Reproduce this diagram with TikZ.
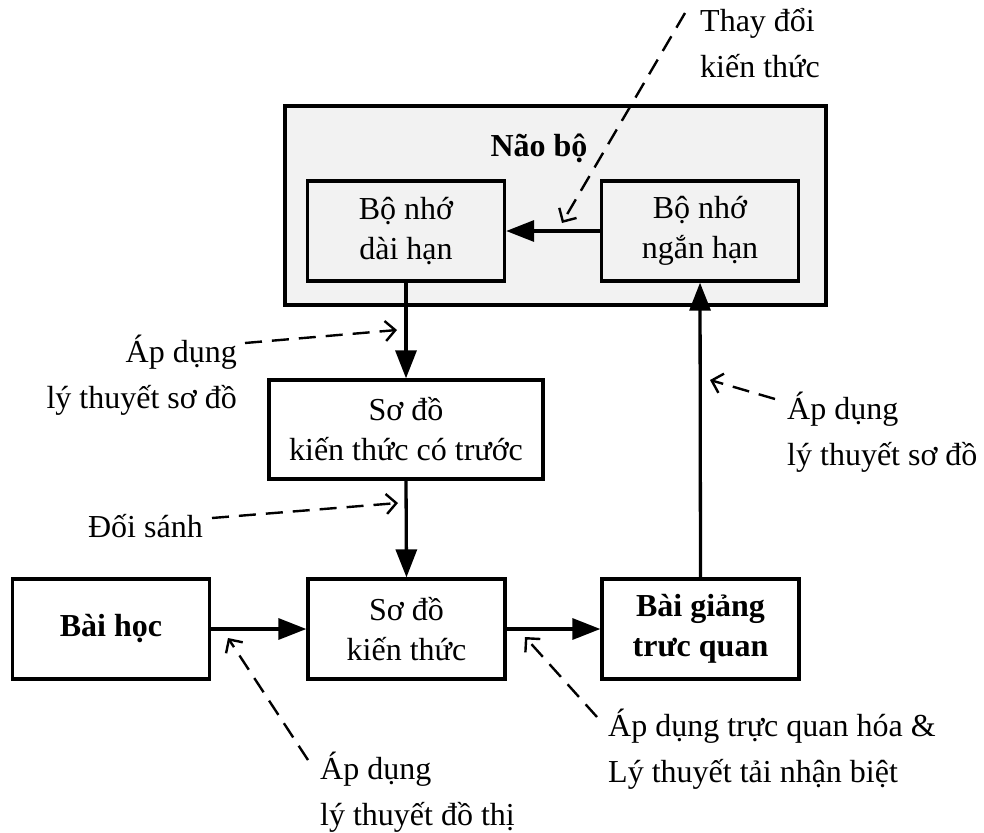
\documentclass[tikz,border=0pt]{standalone}
\usepackage{fontspec}
\setmainfont{Liberation Serif}
\usetikzlibrary{arrows.meta}
\definecolor{panel}{HTML}{F2F2F2}
\begin{document}
\begin{tikzpicture}[x=1pt,y=-1pt,
  box/.style={draw, line width=3.3pt, align=center, inner sep=0pt,
    minimum width=197pt, minimum height=100pt,
    font=\fontsize{32}{40}\selectfont},
  inner/.style={box, fill=panel},
  note/.style={inner sep=0pt, font=\fontsize{32}{46}\selectfont},
  flow/.style={line width=3.3pt, -{Triangle[length=28pt,width=21pt]}},
  hint/.style={line width=2.4pt, dash pattern=on 17pt off 10pt,
    -{Straight Barb[length=10pt,width=20pt]}}
]
\useasboundingbox (0,0) rectangle (984,832);

% brain block with its two memories
\node[draw, line width=4.3pt, fill=panel, minimum width=541pt, minimum height=199pt,
      inner sep=0pt] (brain) at (555.5,205.5) {};
\node[font=\fontsize{32}{40}\selectfont\bfseries, inner sep=0pt, anchor=base]
      (braintitle) at (539,156) {Não bộ};
\node[inner] (ltm) at (406,231) {Bộ nhớ\\dài hạn};
\node[inner] (stm) at (700,231) {Bộ nhớ\\ngắn hạn};

% main chain
\node[box, minimum width=274pt, minimum height=99pt] (prior) at (406,429.5)
      {Sơ đồ\\kiến thức có trước};
\node[box, font=\fontsize{32}{40}\selectfont\bfseries] (lesson) at (111,629) {Bài học};
\node[box] (schema) at (406.5,629) {Sơ đồ\\kiến thức};
\node[box, font=\fontsize{32}{40}\selectfont\bfseries] (lecture) at (700.5,629)
      {Bài giảng\\trưc quan};

\draw[flow] (stm.west) -- (ltm.east);
\draw[flow] (ltm.south) -- (prior.north);
\draw[flow] (prior.south) -- (schema.north);
\draw[flow] (lesson.east) -- (schema.west);
\draw[flow] (schema.east) -- (lecture.west);
\draw[flow] (lecture.north) -- (stm.south);

% annotations (anchored on the baseline of their last line)
\node[note, anchor=base west, align=left] (thay) at (700,78) {Thay đổi\\kiến thức};
\node[note, anchor=base east, align=right] (apL) at (237,408) {Áp dụng\\lý thuyết sơ đồ};
\node[note, anchor=base east] (doi) at (203,537) {Đối sánh};
\node[note, anchor=base west, align=left] (apR) at (787,465) {Áp dụng\\lý thuyết sơ đồ};
\node[note, anchor=base west, align=left] (apB) at (320,825) {Áp dụng\\lý thuyết đồ thị};
\node[note, anchor=base west, align=left] (apV) at (608,782)
      {Áp dụng trực quan hóa \&\\Lý thuyết tải nhận biệt};

% dashed pointers
\coordinate (thayS) at (685,13);   \coordinate (thayE) at (562,223);
\coordinate (apLS) at (245,343);   \coordinate (apLE) at (397,330);
\coordinate (doiS) at (212,518);   \coordinate (doiE) at (398,503);
\coordinate (apRS) at (775,399);   \coordinate (apRE) at (710,380);
\coordinate (apBS) at (308,760);   \coordinate (apBE) at (228,638);
\coordinate (apVS) at (597,717);   \coordinate (apVE) at (525,637);
\draw[hint] (thayS) -- (thayE);
\draw[hint] (apLS) -- (apLE);
\draw[hint] (doiS) -- (doiE);
\draw[hint] (apRS) -- (apRE);
\draw[hint] (apBS) -- (apBE);
\draw[hint] (apVS) -- (apVE);
\end{tikzpicture}
\end{document}
